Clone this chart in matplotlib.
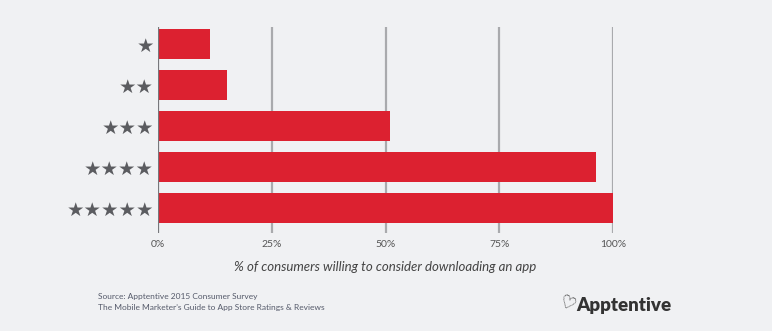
import matplotlib
matplotlib.use("Agg")
import matplotlib.pyplot as plt

ratings = ["★", "★★", "★★★", "★★★★", "★★★★★"]
values = [11.4, 15.2, 51.0, 96.3, 100.0]
xticks = [0, 25, 50, 75, 100]
xtick_labels = ["0%", "25%", "50%", "75%", "100%"]

bg = "#F0F1F3"
fig = plt.figure(figsize=(7.72, 3.31), dpi=100, facecolor=bg)
ax = fig.add_axes([158/772, 1-233/331, 455/772, (233-27)/331])
ax.set_facecolor(bg)

ypos = list(range(len(ratings)))
ax.barh(ypos, values, height=0.73, color="#DC2130", zorder=3)
ax.set_ylim(4.61, -0.415)
ax.set_xlim(0, 100)

for x in xticks[1:]:
    ax.axvline(x, color="#A9AAAD", lw=1.6, zorder=1)
ax.axvline(0, color="#77787C", lw=1.6, zorder=4)

for s in ax.spines.values():
    s.set_visible(False)

ax.set_yticks(ypos)
ax.set_yticklabels(ratings, fontsize=14, color="#5B5C60", family="DejaVu Sans")
ax.tick_params(axis="y", length=0, pad=3)
ax.set_xticks(xticks)
ax.set_xticklabels(xtick_labels, fontsize=7.5, color="#555555", family="Lato")
ax.tick_params(axis="x", length=0, pad=5)

ax.set_xlabel("% of consumers willing to consider downloading an app",
              fontsize=9.5, style="italic", color="#444444", family="Lato", labelpad=9)

fig.text(98/772, 1-297/331, "Source: Apptentive 2015 Consumer Survey",
         fontsize=6, color="#555A6A", family="Lato", va="center")
fig.text(98/772, 1-307.5/331, "The Mobile Marketer\u2019s Guide to App Store Ratings & Reviews",
         fontsize=6, color="#555A6A", family="Lato", va="center")

fig.text(576/772, 1-305/331, "Apptentive", fontsize=13.5, fontweight="heavy",
         color="#333333", family="Lato", va="center", ha="left")
fig.text(567/772, 1-304/331, "\u2661", fontsize=13, color="#333333", fontweight="bold",
         family="DejaVu Sans", va="center", ha="center", rotation=-25)

fig.savefig("out.png", dpi=100, facecolor=bg)
